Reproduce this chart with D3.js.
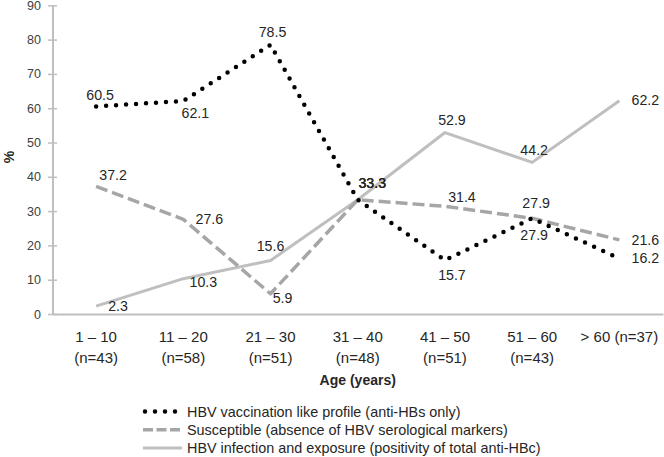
<!DOCTYPE html>
<html>
<head>
<meta charset="utf-8">
<script src="https://cdn.jsdelivr.net/npm/d3@7"></script>
<style>
  html, body { margin: 0; padding: 0; background: #fff; }
  svg { display: block; }
  text { font-family: "Liberation Sans", Arial, sans-serif; }
</style>
</head>
<body>
<svg id="chart" width="664" height="457"></svg>
<script>
// ---- data ----
const categoriesLine1 = ["1 \u2013 10", "11 \u2013 20", "21 \u2013 30", "31 \u2013 40", "41 \u2013 50", "51 \u2013 60", "> 60 (n=37)"];
const categoriesLine2 = ["(n=43)", "(n=58)", "(n=51)", "(n=48)", "(n=51)", "(n=43)", ""];
const vaccination = [60.5, 62.1, 78.5, 33.3, 15.7, 27.9, 16.2];
const susceptible = [37.2, 27.6, 5.9, 33.3, 31.4, 27.9, 21.6];
const infection   = [2.3, 10.3, 15.6, 33.3, 52.9, 44.2, 62.2];
const yTicks = [0, 10, 20, 30, 40, 50, 60, 70, 80, 90];
const seriesNames = [
  "HBV vaccination like profile (anti-HBs only)",
  "Susceptible (absence of HBV serological markers)",
  "HBV infection and exposure (positivity of total anti-HBc)"
];

// ---- label placement (offsets from point) ----
const vaccLabelOffsets = [[4,-6],[12,17],[2,-8],[14.5,-12],[7,20],[2,22],[26,4.5]];
const suscLabelOffsets = [[17,-6],[26,5],[12,9],[14.5,-12],[17,-4],[4,-10],[26,5]];
const infLabelOffsets  = [[22,5],[20,8],[0,-9],[14.5,-12],[7,-7.5],[2,-7],[26,4]];

const svg = d3.select("#chart");
const mLeft = 52.5, mRight = 663, mTop = 5.3, mBottom = 314;

const x = d3.scaleBand().domain(d3.range(categoriesLine1.length)).range([mLeft, mRight]).padding(0);
const y = d3.scaleLinear().domain([0, 90]).range([mBottom, mTop]);
const cx = i => x(i) + x.bandwidth() / 2;

// y axis
const yAxis = svg.append("g").attr("transform", `translate(${mLeft},0)`)
  .call(d3.axisLeft(y).tickValues(yTicks).tickSizeInner(4.5).tickSizeOuter(0).tickPadding(7));
yAxis.select(".domain").attr("stroke", "#bfbfbf").attr("stroke-width", 2);
yAxis.selectAll(".tick line").attr("stroke", "#bfbfbf").attr("stroke-width", 1.5).attr("x2", 4.5).attr("x1", -4.5);
yAxis.selectAll(".tick text").attr("font-size", 12.5).attr("fill", "#404040")
  .attr("font-family", "Liberation Sans, Arial, sans-serif");

// x axis
const xAxis = svg.append("g").attr("transform", `translate(0,${mBottom})`)
  .call(d3.axisBottom(x).tickSize(0).tickFormat(""));
xAxis.select(".domain").attr("stroke", "#bfbfbf").attr("stroke-width", 2);

const catG = svg.append("g");
categoriesLine1.forEach((c, i) => {
  catG.append("text").attr("x", cx(i)).attr("y", 341.7)
    .attr("text-anchor", "middle").attr("font-size", 15).attr("fill", "#262626").text(c);
  if (categoriesLine2[i]) {
    catG.append("text").attr("x", cx(i)).attr("y", 363.3)
      .attr("text-anchor", "middle").attr("font-size", 15).attr("fill", "#262626").text(categoriesLine2[i]);
  }
});

// axis titles
svg.append("text").attr("x", (mLeft + mRight) / 2).attr("y", 385)
  .attr("text-anchor", "middle").attr("font-size", 14).attr("font-weight", "bold")
  .attr("fill", "#262626").text("Age (years)");
svg.append("text").attr("transform", "translate(14,157) rotate(-90)")
  .attr("text-anchor", "middle").attr("font-size", 14).attr("font-weight", "bold")
  .attr("fill", "#262626").text("%");

// lines
const styles = [
  { data: vaccination, stroke: "#000", width: 4.5, dash: "0 10", cap: "round", offs: vaccLabelOffsets },
  { data: susceptible, stroke: "#a6a6a6", width: 3.5, dash: "12 5", cap: "butt", offs: suscLabelOffsets },
  { data: infection, stroke: "#bfbfbf", width: 3, dash: null, cap: "butt", offs: infLabelOffsets }
];
const line = d3.line().x((d, i) => cx(i)).y(d => y(d));

[2, 1, 0].forEach(k => {
  const s = styles[k];
  svg.append("path").datum(s.data)
    .attr("d", line)
    .attr("fill", "none")
    .attr("stroke", s.stroke)
    .attr("stroke-width", s.width)
    .attr("stroke-linecap", s.cap)
    .attr("stroke-linejoin", "round")
    .attr("stroke-dasharray", s.dash);
});

// data labels
styles.forEach(s => {
  svg.append("g").selectAll("text").data(s.data).join("text")
    .attr("x", (d, i) => cx(i) + s.offs[i][0])
    .attr("y", (d, i) => y(d) + s.offs[i][1])
    .attr("text-anchor", "middle")
    .attr("font-size", 14.2)
    .attr("fill", "#262626")
    .text(d => d3.format(".1f")(d));
});

// legend
const legend = svg.append("g");
const rowY = [411.5, 429.8, 448.1];
styles.forEach((s, k) => {
  legend.append("line")
    .attr("x1", k === 0 ? 145 : 143).attr("x2", k === 0 ? 180 : 182)
    .attr("y1", rowY[k]).attr("y2", rowY[k])
    .attr("stroke", s.stroke)
    .attr("stroke-width", s.width)
    .attr("stroke-linecap", s.cap)
    .attr("stroke-dasharray", k === 0 ? "0 10" : (k === 1 ? "10 3.5" : null));
  legend.append("text").attr("x", 187).attr("y", rowY[k] + 5)
    .attr("font-size", 14.4).attr("fill", "#262626").text(seriesNames[k]);
});
</script>
</body>
</html>
